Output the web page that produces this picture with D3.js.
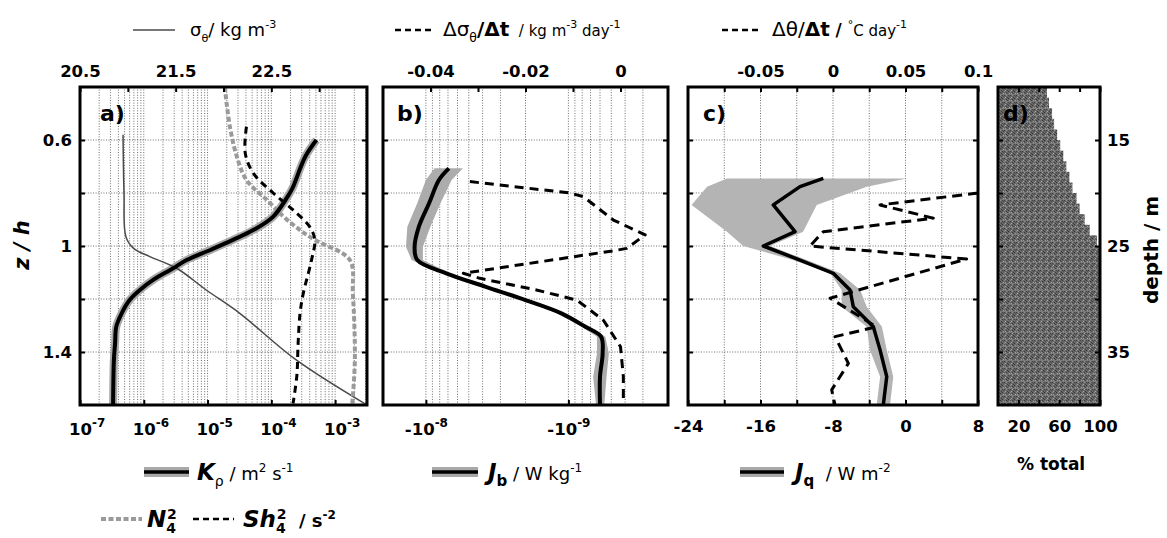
<!DOCTYPE html>
<html>
<head>
<meta charset="utf-8">
<script src="https://cdn.jsdelivr.net/npm/d3@7"></script>
<style>
body { margin: 0; background: #fff; }
svg { font-family: "DejaVu Sans", sans-serif; }
text { white-space: pre; fill: #000; }
.tick text { font-family: "DejaVu Sans", sans-serif; font-weight: bold; font-size: 16.5px; fill: #000; }
.tick line { stroke: #000; stroke-width: 2; }
.grid line { stroke: #6e6e6e; stroke-width: 1; stroke-dasharray: 1,1.6; }
</style>
</head>
<body>
<svg id="fig" width="1167" height="538"></svg>
<script>
// panel a: sigma_theta, K_rho, N^2, Sh^2 against z/h
var zSig  = [0.58, 0.80, 0.965, 1.009, 1.04, 1.084, 1.166, 1.254, 1.43, 1.60]
var sigma = [20.95, 20.96, 20.98, 21.06, 21.23, 21.51, 21.82, 22.17, 22.76, 23.50]

var zK   = [0.60, 0.663, 0.776, 0.80, 0.889, 0.94, 0.977, 1.015, 1.053, 1.084, 1.128, 1.166, 1.204, 1.254, 1.305, 1.367, 1.43, 1.60]
var kRho = [5.1e-4, 3.4e-4, 2.2e-4, 1.95e-4, 1.07e-4, 5.2e-5, 2.5e-5, 1.1e-5, 4.7e-6, 2.9e-6, 1.4e-6, 8.7e-7, 6.0e-7, 4.5e-7, 3.7e-7, 3.55e-7, 3.4e-7, 3.3e-7]

var zN2 = [0.40, 0.55, 0.663, 0.751, 0.826, 0.889, 0.94, 0.977, 1.053, 1.18, 1.43, 1.594]
var n2  = [1.86e-5, 2.24e-5, 2.88e-5, 4.07e-5, 8.5e-5, 1.55e-4, 2.82e-4, 4.8e-4, 1.7e-3, 1.9e-3, 2.04e-3, 1.86e-3]
var zSh2 = [0.55, 0.65, 0.726, 0.80, 0.864, 0.927, 0.977, 1.053, 1.18, 1.254, 1.367, 1.49, 1.594]
var sh2  = [4.07e-5, 3.9e-5, 5.25e-5, 1.07e-4, 2.19e-4, 3.98e-4, 4.8e-4, 4.27e-4, 3.16e-4, 2.82e-4, 2.63e-4, 2.51e-4, 2.19e-4]

// panel b: J_b (with band) and d sigma / dt
var zJb  = [0.707, 0.751, 0.839, 0.927, 1.003, 1.053, 1.103, 1.154, 1.204, 1.254, 1.305, 1.342, 1.405, 1.493, 1.60]
var jb   = [-6.9e-9, -8.1e-9, -9.5e-9, -1.12e-8, -1.2e-8, -1.15e-8, -7.2e-9, -3.8e-9, -2.0e-9, -1.12e-9, -7.6e-10, -5.9e-10, -5.75e-10, -6.0e-10, -6.0e-10]
var jbLo = [-8.7e-9, -1.0e-8, -1.15e-8, -1.35e-8, -1.38e-8, -1.26e-8, -7.8e-9, -4.1e-9, -2.1e-9, -1.2e-9, -8.1e-10, -6.3e-10, -6.3e-10, -6.7e-10, -6.4e-10]
var jbHi = [-5.5e-9, -6.6e-9, -7.9e-9, -9.3e-9, -1.05e-8, -1.05e-8, -6.8e-9, -3.55e-9, -1.86e-9, -1.05e-9, -7.1e-10, -5.5e-10, -5.2e-10, -5.4e-10, -5.6e-10]

var zDs  = [0.757, 0.80, 0.814, 0.902, 0.958, 1.009, 1.018, 1.103, 1.122, 1.166, 1.204, 1.28, 1.38, 1.493, 1.60]
var dSig = [-0.0317, -0.0106, -0.0078, -0.0015, 0.0052, 0.0013, -0.0015, -0.0331, -0.0296, -0.0177, -0.0092, -0.0036, 0, 0.0006, 0.0006]

// panel c: J_q (with band) and d theta / dt
var zJq  = [0.745, 0.776, 0.845, 0.946, 1.0, 1.053, 1.103, 1.166, 1.229, 1.305, 1.392, 1.493, 1.60]
var jq   = [-9.07, -11.64, -14.59, -12.19, -15.69, -11.64, -7.97, -6.12, -5.76, -3.55, -2.81, -2.07, -2.45]
var jqLo = [-19.7, -21.9, -23.6, -19.7, -17.9, -12.4, -8.3, -7.04, -7.04, -4.28, -3.92, -2.8, -3.18]
var jqHi = [0.13, -4.28, -9.8, -11.3, -14.95, -10.9, -7.2, -5.0, -4.28, -2.6, -2.07, -1.35, -1.71]

var zDt    = [0.80, 0.845, 0.895, 0.946, 1.0, 1.049, 1.197, 1.305, 1.342, 1.443, 1.543, 1.60]
var dTheta = [0.1, 0.0324, 0.0692, -0.0067, -0.0159, 0.0922, -0.002, 0.030, 0.0014, 0.0106, -0.0009, 0.0014]

// panel d: % of total per 1 m depth bin (top of bin)
var binTop = [10, 11, 12, 13, 14, 15, 16, 17, 18, 19, 20, 21, 22, 23, 24, 25, 26, 27, 28, 29, 30, 31, 32, 33, 34, 35, 36, 37, 38, 39]
var pct    = [48, 50, 53, 55, 58, 61, 64, 67, 70, 73, 77, 80, 85, 90, 97, 100, 100, 100, 100, 100, 100, 100, 100, 100, 100, 100, 100, 100, 100, 100]

// ticks and labels
var zTicks = [0.6, 0.8, 1, 1.2, 1.4], zLabels = [0.6, 1, 1.4]
var sigTicks = [20.5, 21, 21.5, 22, 22.5, 23], sigLabels = [20.5, 21.5, 22.5]
var kTicks = [1e-7, 1e-6, 1e-5, 1e-4, 1e-3]
var dsTicks = [-0.04, -0.03, -0.02, -0.01, 0], dsLabels = [-0.04, -0.02, 0]
var jbTicks = [-1e-8, -1e-9]
var dtTicks = [-0.075, -0.05, -0.025, 0, 0.025, 0.05, 0.075, 0.1], dtLabels = [-0.05, 0, 0.05, 0.1]
var jqTicks = [-24, -20, -16, -12, -8, -4, 0, 4, 8], jqLabels = [-24, -16, -8, 0, 8]
var pctTicks = [20, 40, 60, 80, 100], pctLabels = [20, 60, 100]
var depthTicks = [15, 20, 25, 30, 35], depthLabels = [15, 25, 35]

var T = 87, B = 405
var svg = d3.select('#fig')
var defs = svg.append('defs')

var zh = d3.scaleLinear().domain([0.4, 1.6]).range([T, B])
var depth = d3.scaleLinear().domain([10, 40]).range([T, B])

var xSig = d3.scaleLinear().domain([20.5, 23.5]).range([80, 367])
var xK = d3.scaleLog().domain([1e-7, Math.pow(10, -2.5)]).range([80, 367])
var xDs = d3.scaleLinear().domain([-0.05, 0.01]).range([383, 668])
var xJb = d3.scaleLog().domain([-2e-8, -2e-10]).range([383, 668])
var xDt = d3.scaleLinear().domain([-0.1, 0.1]).range([688, 978])
var xJq = d3.scaleLinear().domain([-24, 8]).range([688, 978])
var xP = d3.scaleLinear().domain([0, 100]).range([998, 1100])

// streaky dithered texture for panel d
var pat = defs.append('pattern').attr('id', 'dither').attr('width', 6).attr('height', 7)
  .attr('patternUnits', 'userSpaceOnUse')
pat.append('rect').attr('width', 6).attr('height', 7).attr('fill', '#666')
;[[0, 0, '#333'], [2, 0, '#8c8c8c'], [4, 1, '#3a3a3a'], [1, 2, '#a0a0a0'], [3, 2, '#9a9a9a'], [5, 2, '#4a4a4a'],
  [0, 4, '#444'], [2, 4, '#3c3c3c'], [4, 4, '#929292'], [1, 5, '#505050'], [3, 6, '#a8a8a8'], [5, 6, '#3e3e3e']].forEach(function(p){
  pat.append('rect').attr('x', p[0]).attr('y', p[1]).attr('width', 1).attr('height', 1).attr('fill', p[2])
})
pat.append('rect').attr('x', 0).attr('y', 3).attr('width', 6).attr('height', 1).attr('fill', '#7e7e7e').attr('opacity', 0.8)

function panel(id, x0, x1){
  defs.append('clipPath').attr('id', 'clip-' + id).append('rect')
    .attr('x', x0).attr('y', T).attr('width', x1 - x0).attr('height', B - T)
  return svg.append('g').attr('clip-path', 'url(#clip-' + id + ')')
}

function grid(g, xs, x, x0, x1){
  var gg = g.append('g').attr('class', 'grid')
  gg.selectAll('line.v').data(xs).join('line').attr('class', 'v')
    .attr('x1', x).attr('x2', x).attr('y1', T).attr('y2', B)
  gg.selectAll('line.h').data(zTicks).join('line').attr('class', 'h')
    .attr('x1', x0).attr('x2', x1).attr('y1', zh).attr('y2', zh)
}

function zip(zs, vs){ return zs.map(function(z, i){ return {z: z, v: vs[i]} }) }
function zip3(zs, lo, hi){ return zs.map(function(z, i){ return {z: z, lo: lo[i], hi: hi[i]} }) }

function path(g, rows, x, style, curve){
  var line = d3.line().x(function(d){ return x(d.v) }).y(function(d){ return zh(d.z) })
  if (curve) line.curve(curve)
  return g.append('path').attr('d', line(rows)).attr('fill', 'none')
    .attr('stroke', style.c).attr('stroke-width', style.w).attr('stroke-dasharray', style.dash || null)
    .attr('stroke-linejoin', 'round')
}

function band(g, rows, x, fill){
  var area = d3.area().y(function(d){ return zh(d.z) })
    .x0(function(d){ return x(d.lo) }).x1(function(d){ return x(d.hi) })
  g.append('path').attr('d', area(rows)).attr('fill', fill)
}

function ax(gen, tx, ty, labels){
  var g = svg.append('g').attr('transform', 'translate(' + tx + ',' + ty + ')').call(gen)
  g.select('.domain').remove()
  g.selectAll('.tick text').text(function(d){ return labels && labels.indexOf(d) >= 0 ? String(d) : '' })
  return g
}

function supLabels(g, base, sign, center){
  g.selectAll('.tick text').text(null).each(function(d){
    var t = d3.select(this)
    var e = Math.round(Math.log10(Math.abs(d)))
    if (!center) t.attr('text-anchor', 'start').attr('x', -11.5)
    t.append('tspan').text(sign + base)
    t.append('tspan').attr('dy', -8).attr('font-size', '12px').text(String(e))
  })
}

function zAxes(x0, x1, leftLabels){
  ax(d3.axisLeft(zh).tickValues(zTicks).tickSize(-5).tickPadding(8), x0, 0, leftLabels ? zLabels : null)
  ax(d3.axisRight(zh).tickValues(zTicks).tickSize(-5), x1, 0, null)
}

function frame(x0, x1){
  svg.append('rect').attr('x', x0).attr('y', T).attr('width', x1 - x0).attr('height', B - T)
    .attr('fill', 'none').attr('stroke', '#000').attr('stroke-width', 3)
}

function tag(x, s){
  svg.append('text').attr('x', x).attr('y', 121).attr('font-size', 22).attr('font-weight', 'bold').text(s)
}

// ---- panel a
var ga = panel('a', 80, 367)
grid(ga, xK.ticks(), xK, 80, 367)
path(ga, zip(zK, kRho), xK, {c: '#a9a9a9', w: 8}, d3.curveCatmullRom)
path(ga, zip(zSig, sigma), xSig, {c: '#4a4a4a', w: 1.5}, d3.curveCatmullRom)
path(ga, zip(zN2, n2), xK, {c: '#9a9a9a', w: 4, dash: '5,2.5'}, d3.curveCatmullRom)
path(ga, zip(zSh2, sh2), xK, {c: '#000', w: 3, dash: '7,5'}, d3.curveCatmullRom)
path(ga, zip(zK, kRho), xK, {c: '#000', w: 4}, d3.curveCatmullRom)
frame(80, 367)
zAxes(80, 367, true)
ax(d3.axisTop(xSig).tickValues(sigTicks).tickSize(-5).tickPadding(10), 0, T, sigLabels)
supLabels(ax(d3.axisBottom(xK).tickValues(kTicks).tickSize(-5).tickPadding(18), 0, B, null), '10', '', false)
tag(100, 'a)')

// ---- panel b
var gb = panel('b', 383, 668)
grid(gb, xJb.ticks(), xJb, 383, 668)
band(gb, zip3(zJb, jbLo, jbHi), xJb, '#acacac')
path(gb, zip(zDs, dSig), xDs, {c: '#000', w: 3, dash: '9,6'})
path(gb, zip(zJb, jb), xJb, {c: '#000', w: 4}, d3.curveCatmullRom)
frame(383, 668)
zAxes(383, 668, false)
ax(d3.axisTop(xDs).tickValues(dsTicks).tickSize(-5).tickPadding(10), 0, T, dsLabels)
supLabels(ax(d3.axisBottom(xJb).tickValues(jbTicks).tickSize(-5).tickPadding(18), 0, B, null), '10', '-', true)
tag(397, 'b)')

// ---- panel c
var gc = panel('c', 688, 978)
grid(gc, jqTicks, xJq, 688, 978)
band(gc, zip3(zJq, jqLo, jqHi), xJq, '#b4b4b4')
path(gc, zip(zJq, jq), xJq, {c: '#000', w: 3.5})
path(gc, zip(zDt, dTheta), xDt, {c: '#000', w: 3, dash: '10,6'})
frame(688, 978)
zAxes(688, 978, false)
ax(d3.axisTop(xDt).tickValues(dtTicks).tickSize(-5).tickPadding(10), 0, T, dtLabels)
ax(d3.axisBottom(xJq).tickValues(jqTicks).tickSize(-5).tickPadding(15), 0, B, jqLabels)
tag(703, 'c)')

// ---- panel d
var gd = panel('d', 998, 1100)
gd.selectAll('rect.bin').data(binTop).join('rect').attr('class', 'bin')
  .attr('x', xP(0)).attr('y', function(d){ return depth(d) })
  .attr('width', function(d, i){ return xP(pct[i]) - xP(0) })
  .attr('height', function(d){ return depth(d + 1) - depth(d) + 0.5 })
  .attr('fill', 'url(#dither)')
frame(998, 1100)
ax(d3.axisLeft(zh).tickValues(zTicks).tickSize(-5), 998, 0, null)
ax(d3.axisRight(depth).tickValues(depthTicks).tickSize(-5).tickPadding(7), 1100, 0, depthLabels)
ax(d3.axisTop(xP).tickValues(pctTicks).tickSize(-5), 0, T, null)
ax(d3.axisBottom(xP).tickValues(pctTicks).tickSize(-5).tickPadding(15), 0, B, pctLabels)
tag(1003, 'd)')

// ---- axis titles
svg.append('text').attr('transform', 'translate(29,245) rotate(-90)').attr('text-anchor', 'middle')
  .attr('font-size', 21).attr('font-weight', 'bold').attr('font-style', 'italic').text('z / h')
svg.append('text').attr('transform', 'translate(1158,250) rotate(-90)').attr('text-anchor', 'middle')
  .attr('font-size', 20).attr('font-weight', 'bold').text('depth / m')
svg.append('text').attr('x', 1017).attr('y', 470).attr('font-size', 17).attr('font-weight', 'bold').text('% total')

// ---- legends
function rich(x, y, size, parts){
  var t = svg.append('text').attr('x', x).attr('y', y).attr('font-size', size)
  var shift = 0
  parts.forEach(function(p){
    var want = p.sub ? 0.32 * size : p.sup ? -0.42 * size : 0
    var s = t.append('tspan').attr('dy', want - shift).text(p.t)
    if (p.sub || p.sup) s.attr('font-size', (p.fs || size * 0.62))
    else if (p.fs) s.attr('font-size', p.fs)
    if (p.dx) s.attr('dx', p.dx)
    if (p.b) s.attr('font-weight', 'bold')
    if (p.i) s.attr('font-style', 'italic')
    shift = want
  })
}

function sample(x0, x1, y, style){
  svg.append('line').attr('x1', x0).attr('x2', x1).attr('y1', y).attr('y2', y)
    .attr('stroke', style.c).attr('stroke-width', style.w).attr('stroke-dasharray', style.dash || null)
}

function bandSample(x0, x1, y){
  svg.append('rect').attr('x', x0).attr('y', y - 5).attr('width', x1 - x0).attr('height', 10).attr('fill', '#a8a8a8')
  sample(x0, x1, y, {c: '#000', w: 3.5})
}

sample(133, 175, 30, {c: '#4a4a4a', w: 1.5})
rich(190, 36, 18, [{t: 'σ'}, {t: 'θ', sub: true}, {t: '/ kg m'}, {t: '-3', sup: true}])

sample(395, 433, 30, {c: '#000', w: 2.5, dash: '6,4'})
rich(443, 36, 20, [{t: 'Δσ'}, {t: 'θ', sub: true}, {t: '/Δt', b: true}, {t: '  / kg m', fs: 15}, {t: '-3', sup: true, fs: 11}, {t: ' day', fs: 15}, {t: '-1', sup: true, fs: 11}])

sample(722, 760, 30, {c: '#000', w: 2.5, dash: '6,4'})
rich(772, 36, 20, [{t: 'Δθ/'}, {t: 'Δt', b: true}, {t: ' / ', b: true, fs: 17}, {t: '°', sup: true, fs: 11}, {t: 'C day', fs: 15}, {t: '-1', sup: true, fs: 11}])

bandSample(144, 189, 472)
rich(197, 480, 20, [{t: 'K', b: true, i: true, fs: 23}, {t: 'ρ', sub: true, fs: 14}, {t: ' / m', fs: 18}, {t: '2', sup: true, fs: 12}, {t: ' s', fs: 18}, {t: '-1', sup: true, fs: 12}])

sample(101, 142, 519, {c: '#9a9a9a', w: 4, dash: '5,2.5'})
rich(147, 527, 20, [{t: 'N', b: true, i: true, fs: 23}, {t: '4', sub: true, b: true, fs: 14}, {t: '2', sup: true, b: true, fs: 14, dx: -9}])
sample(193, 234, 519, {c: '#000', w: 2.5, dash: '6,4'})
rich(243, 527, 20, [{t: 'Sh', b: true, i: true, fs: 23}, {t: '4', sub: true, b: true, fs: 14}, {t: '2', sup: true, b: true, fs: 14, dx: -9}, {t: '  / s', b: true, fs: 18}, {t: '-2', sup: true, b: true, fs: 12}])

bandSample(432, 478, 472)
rich(488, 480, 20, [{t: 'J', b: true, i: true, fs: 23}, {t: 'b', sub: true, b: true, fs: 15}, {t: ' / W kg', fs: 18}, {t: '-1', sup: true, fs: 12}])

bandSample(740, 784, 472)
rich(795, 480, 20, [{t: 'J', b: true, i: true, fs: 23}, {t: 'q', sub: true, b: true, fs: 15}, {t: '  / W m', fs: 18}, {t: '-2', sup: true, fs: 12}])
</script>
</body>
</html>
